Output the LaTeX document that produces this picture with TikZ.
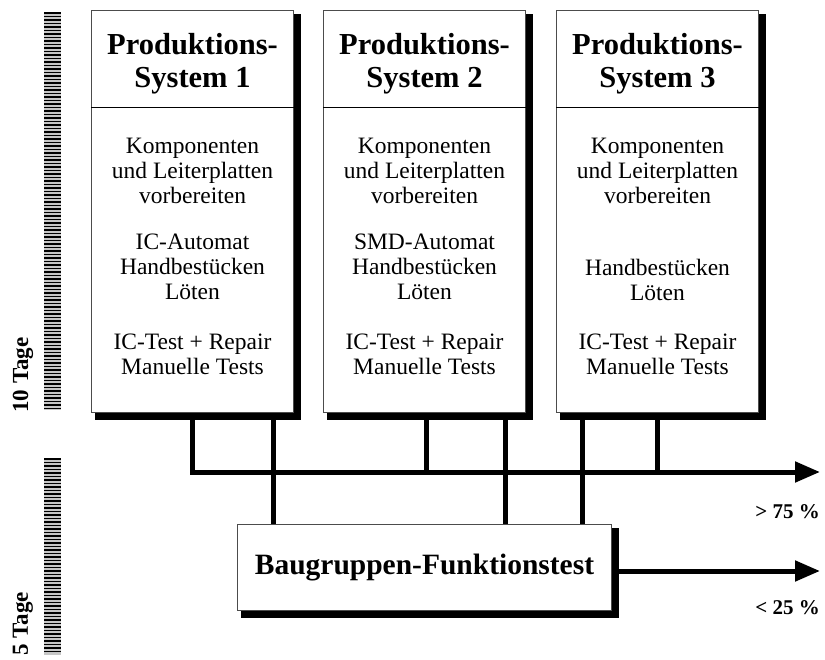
\documentclass[tikz,border=0pt]{standalone}
\usepackage{fontspec}
\setmainfont{Liberation Serif}
\usetikzlibrary{arrows.meta,calc}
\begin{document}
\begin{tikzpicture}[x=1pt,y=-1pt,
  sysbox/.style={draw=black!70,line width=1pt,fill=white,minimum width=202pt,minimum height=402pt,anchor=north west,inner sep=0pt},
  bgbox/.style={draw=black!70,line width=1pt,fill=white,minimum width=374pt,minimum height=86pt,anchor=north west,inner sep=0pt},
  title/.style={font=\bfseries\fontsize{30.5}{33}\selectfont,align=center,inner sep=0pt},
  body/.style={font=\fontsize{23.5}{25}\selectfont,align=center,inner sep=0pt},
  pct/.style={font=\bfseries\fontsize{21}{23}\selectfont,anchor=east,inner sep=0pt},
  tage/.style={font=\bfseries\fontsize{23}{25}\selectfont,rotate=90,inner sep=0pt},
  conn/.style={line width=5pt},
  arr/.style={line width=5pt,-{Triangle[length=25pt,width=20pt]}},
  shadowfill/.style={fill=black}]
\useasboundingbox (0,0) rectangle (825,660);
% scale bars
\fill[gray!45] (44,12) rectangle (61,410);
\foreach \y in {13,16.5,...,409} \draw[line width=1.6pt] (44,\y) -- (61,\y);
\fill[gray!45] (44,458) rectangle (61,655);
\foreach \y in {459,462.5,...,654} \draw[line width=1.6pt] (44,\y) -- (61,\y);
\node[tage] (t10) at (23,375) {10 Tage};
\node[tage] (t5) at (23,624) {5 Tage};
% coordinates
\coordinate (j1) at (192,472);
\coordinate (v1) at (273,472);
\coordinate (j2) at (426,472);
\coordinate (v2) at (505,472);
\coordinate (v3) at (582,472);
\coordinate (j3) at (657,472);
\coordinate (out1) at (820,472);
\coordinate (out2) at (820,571);
% boxes (invisible first to get anchors)
\path node[sysbox,draw=none,fill=none] (b1) at (91,10) {}
      node[sysbox,draw=none,fill=none] (b2) at (323,10) {}
      node[sysbox,draw=none,fill=none] (b3) at (556,10) {}
      node[bgbox,draw=none,fill=none] (bg) at (237,524) {};
% connectors
\draw[arr] (b1.south -| j1) |- (out1);
\draw[conn] (b2.south -| j2) -- (j2);
\draw[conn] (b3.south -| j3) -- (j3);
\draw[conn] (b1.south -| v1) -- (bg.north -| v1);
\draw[conn] (b2.south -| v2) -- (bg.north -| v2);
\draw[conn] (b3.south -| v3) -- (bg.north -| v3);
\draw[arr] (bg.east |- out2) -- (out2);
% shadows
\foreach \b in {b1,b2,b3,bg}
  \fill[shadowfill] ($(\b.north west)+(4,4)$) rectangle ($(\b.south east)+(7,7)$);
% boxes
\node[sysbox] (B1) at (91,10) {};
\node[sysbox] (B2) at (323,10) {};
\node[sysbox] (B3) at (556,10) {};
\node[bgbox] (BG) at (237,524) {};
\foreach \b in {B1,B2,B3}
  \draw[line width=0.8pt] (\b.west |- 0,107) -- (\b.east |- 0,107);
% titles
\node[title] (h1) at ($(B1.north)+(0,54)$) {Produktions-\\System 1};
\node[title] (h2) at ($(B2.north)+(0,54)$) {Produktions-\\System 2};
\node[title] (h3) at ($(B3.north)+(0,54)$) {Produktions-\\System 3};
% body
\node[body] (p1a) at (B1.center |- 0,171) {Komponenten\\und Leiterplatten\\vorbereiten};
\node[body] (p2a) at (B2.center |- 0,171) {Komponenten\\und Leiterplatten\\vorbereiten};
\node[body] (p3a) at (B3.center |- 0,171) {Komponenten\\und Leiterplatten\\vorbereiten};
\node[body] (p1b) at (B1.center |- 0,267) {IC-Automat\\Handbestücken\\Löten};
\node[body] (p2b) at (B2.center |- 0,267) {SMD-Automat\\Handbestücken\\Löten};
\node[body] (p3b) at (B3.center |- 0,280) {Handbestücken\\Löten};
\node[body] (p1c) at (B1.center |- 0,354) {IC-Test + Repair\\Manuelle Tests};
\node[body] (p2c) at (B2.center |- 0,354) {IC-Test + Repair\\Manuelle Tests};
\node[body] (p3c) at (B3.center |- 0,354) {IC-Test + Repair\\Manuelle Tests};
\node[font=\bfseries\fontsize{29.5}{32}\selectfont,inner sep=0pt] (bgt) at (BG.center) {Baugruppen-Funktionstest};
% percentages
\node[pct] (l1) at (820,512) {> 75 \%};
\node[pct] (l2) at (820,608) {< 25 \%};
\end{tikzpicture}
\end{document}
